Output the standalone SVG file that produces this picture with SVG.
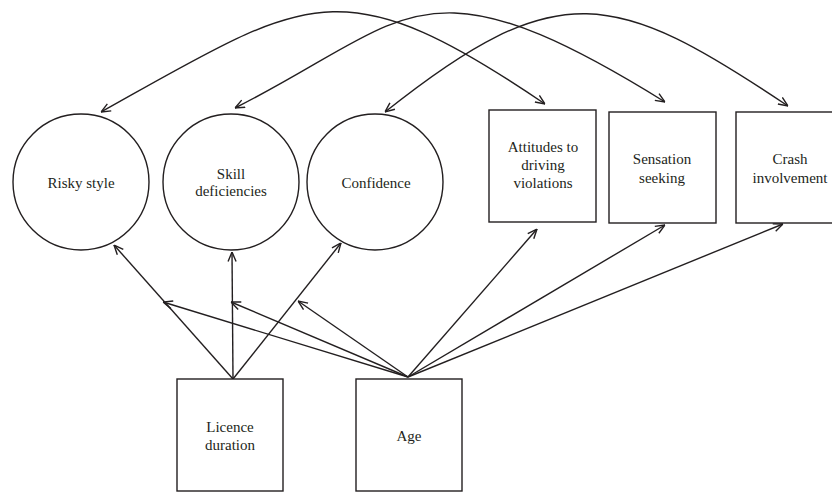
<svg xmlns="http://www.w3.org/2000/svg" width="832" height="492" viewBox="0 0 832 492">
<defs>
<style>
.n{fill:#fff;stroke:#231f20;stroke-width:1.4}
.t{font-family:"Liberation Serif","Times New Roman",serif;font-size:15px;fill:#231f20;text-anchor:middle}
.c{fill:none;stroke:#231f20;stroke-width:1.4}
</style>
<marker id="ah" viewBox="0 0 10 10" refX="10" refY="5" markerWidth="10" markerHeight="10" markerUnits="userSpaceOnUse" orient="auto-start-reverse">
<path d="M0.5,1 L10,5 L0.5,9" fill="none" stroke="#231f20" stroke-width="1.4"/>
</marker>
</defs>
<rect width="832" height="492" fill="#fff"/>
<g id="connectors">
<path class="c" d="M101,112 C307,-3 339,-36 545,104" marker-start="url(#ah)" marker-end="url(#ah)"/>
<path class="c" d="M235,108 C410,20 420,-50 665,102" marker-start="url(#ah)" marker-end="url(#ah)"/>
<path class="c" d="M385,112 C558,-26 615,-10 788,106" marker-start="url(#ah)" marker-end="url(#ah)"/>
<line class="c" x1="233" y1="379" x2="114" y2="245" marker-end="url(#ah)"/>
<line class="c" x1="233" y1="379" x2="232" y2="252" marker-end="url(#ah)"/>
<line class="c" x1="233" y1="379" x2="341" y2="243" marker-end="url(#ah)"/>
<line class="c" x1="408" y1="377" x2="163" y2="302" marker-end="url(#ah)"/>
<line class="c" x1="408" y1="377" x2="231" y2="302" marker-end="url(#ah)"/>
<line class="c" x1="408" y1="377" x2="298" y2="301" marker-end="url(#ah)"/>
<line class="c" x1="408" y1="377" x2="537" y2="229" marker-end="url(#ah)"/>
<line class="c" x1="408" y1="377" x2="665" y2="225" marker-end="url(#ah)"/>
<line class="c" x1="408" y1="377" x2="783" y2="224" marker-end="url(#ah)"/>
</g>
<g id="risky-style">
<circle class="n" cx="81" cy="182" r="68"/>
<text class="t" x="81" y="188">Risky style</text>
</g>
<g id="skill-deficiencies">
<circle class="n" cx="231" cy="182" r="68"/>
<text class="t" x="231" y="179">Skill</text>
<text class="t" x="231" y="196">deficiencies</text>
</g>
<g id="confidence">
<circle class="n" cx="375" cy="182" r="68"/>
<text class="t" x="376" y="188">Confidence</text>
</g>
<g id="attitudes">
<rect class="n" x="489" y="110" width="107" height="112"/>
<text class="t" x="543" y="152">Attitudes to</text>
<text class="t" x="543" y="170">driving</text>
<text class="t" x="543" y="188">violations</text>
</g>
<g id="sensation-seeking">
<rect class="n" x="609" y="112" width="107" height="111"/>
<text class="t" x="662" y="164">Sensation</text>
<text class="t" x="662" y="183">seeking</text>
</g>
<g id="crash-involvement">
<rect class="n" x="736" y="112" width="110" height="111"/>
<text class="t" x="790" y="164">Crash</text>
<text class="t" x="790" y="183">involvement</text>
</g>
<g id="licence-duration">
<rect class="n" x="177" y="379" width="106" height="112"/>
<text class="t" x="230" y="432">Licence</text>
<text class="t" x="230" y="450">duration</text>
</g>
<g id="age">
<rect class="n" x="356" y="379" width="106" height="112"/>
<text class="t" x="409" y="441">Age</text>
</g>
</svg>
